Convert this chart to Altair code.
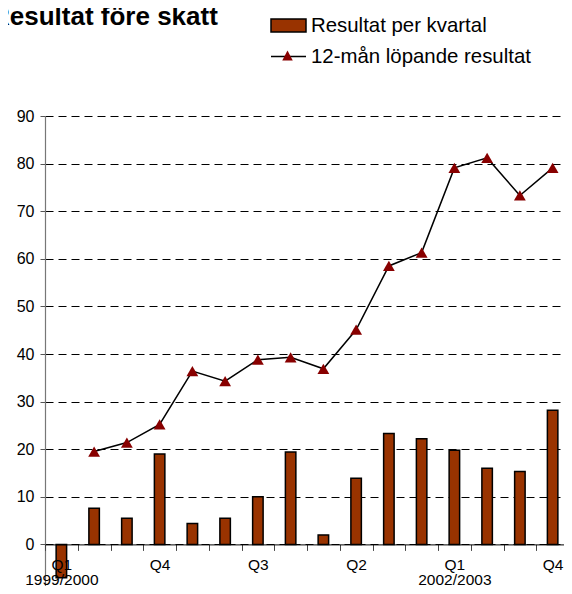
import altair as alt
import pandas as pd

# ---- data ----
quarter_idx = list(range(16))
quarter_labels = ["Q1", "", "", "Q4", "", "", "Q3", "", "", "Q2", "", "", "Q1", "", "", "Q4"]
year_labels = ["1999/2000", "", "", "", "", "", "", "", "", "", "", "", "2002/2003", "", "", ""]
quarterly = [-7.0, 7.6, 5.5, 19.0, 4.4, 5.5, 10.0, 19.4, 2.0, 13.9, 23.3, 22.2, 19.8, 16.0, 15.3, 28.2]
rolling_idx = list(range(1, 16))
rolling = [19.5, 21.4, 25.2, 36.4, 34.3, 38.8, 39.3, 36.9, 45.1, 58.5, 61.3, 79.1, 81.2, 73.3, 79.1]
y_ticks = list(range(-10, 91, 10))

BAR_NAME = "Resultat per kvartal"
LINE_NAME = "12-mån löpande resultat"
MARKER_NAME = "marker"
TITLE = "Resultat före skatt"

FONT = "Liberation Sans"
W, H = 519, 470          # svg stays inside the 572x594 page
Y_RANGE = 476            # pixel extent of -10..90
X_RANGE = 524

bars_df = pd.DataFrame({"q": quarter_idx, "v": quarterly, "s": BAR_NAME})
line_df = pd.DataFrame({"q": rolling_idx, "v": rolling, "s": LINE_NAME, "m": MARKER_NAME})

# multi-line label expression built from the label lists
parts = []
for q, y in zip(quarter_labels, year_labels):
    if y:
        parts.append("['%s','%s']" % (q, y))
    else:
        parts.append("'%s'" % q)
label_expr = "[" + ",".join(parts) + "][datum.value]"

x_scale = alt.Scale(domain=quarter_idx, range=[0, X_RANGE], paddingInner=0, paddingOuter=0)
y_scale = alt.Scale(domain=[-10, 90], nice=False, zero=False, range=[Y_RANGE, 0])

x_axis = alt.Axis(
    title=None, labelExpr=label_expr, labelAngle=0, tickBand="extent",
    offset=-(H - Y_RANGE * 90 / 100), domainColor="black", domainWidth=1,
    tickColor="#444", tickSize=6, labelFont=FONT, labelFontSize=15.5,
    labelColor="black", labelPadding=7, labelLineHeight=15,
    labelBaseline="top", zindex=1, grid=False,
)
y_axis = alt.Axis(
    title=None, values=y_ticks, grid=True, gridDash=[8, 5], gridColor="black",
    gridWidth=1, domainColor="#777", domainWidth=1.2, tickColor="#555",
    tickSize=5, labelFont=FONT, labelFontSize=16, labelColor="black",
    labelPadding=6,
)

X = alt.X("q:O", scale=x_scale, axis=x_axis, sort=None)
Y = alt.Y("v:Q", scale=y_scale, axis=y_axis)

bars = alt.Chart(bars_df).mark_bar(
    width=alt.RelativeBandSize(0.32), stroke="black", strokeWidth=1.5
).encode(
    x=X, y=Y,
    fill=alt.Fill(
        "s:N",
        scale=alt.Scale(domain=[BAR_NAME], range=["#993300"]),
        legend=alt.Legend(
            title=None, orient="none", legendX=225, legendY=-109,
            symbolType="M-1,-0.37H1V0.37H-1Z", symbolSize=1225,
            symbolStrokeColor="black", symbolStrokeWidth=1.5,
            symbolFillColor="#993300", symbolOpacity=1,
            labelFont=FONT, labelFontSize=20.4, labelColor="black",
            labelOffset=4, labelLimit=400, padding=0,
        ),
    ),
)

line = alt.Chart(line_df).mark_line(strokeWidth=1.5).encode(
    x=X, y=Y,
    stroke=alt.Stroke(
        "s:N",
        scale=alt.Scale(domain=[LINE_NAME], range=["black"]),
        legend=alt.Legend(
            title=None, orient="none", legendX=225, legendY=-78,
            symbolType="stroke", symbolSize=1225, symbolStrokeWidth=1.5,
            labelFont=FONT, labelFontSize=20.4, labelColor="black",
            labelOffset=4, labelLimit=400, padding=0, zindex=1,
        ),
    ),
)

points = alt.Chart(line_df).mark_point(
    shape="triangle-up", filled=True, size=140, opacity=1
).encode(
    x=X, y=Y,
    color=alt.Color(
        "m:N",
        scale=alt.Scale(domain=[MARKER_NAME], range=["#880000"]),
        legend=alt.Legend(
            title=None, orient="none", legendX=225, legendY=-78,
            symbolType="M-0.3,0.28L0,-0.28L0.3,0.28Z", symbolSize=1225,
            symbolFillColor="#880000", symbolStrokeWidth=0, symbolOpacity=1,
            labelExpr="''", labelFontSize=20.4, padding=0, zindex=2,
        ),
    ),
)

chart = alt.layer(bars, line, points).resolve_scale(
    fill="independent", stroke="independent", color="independent"
).properties(
    width=W, height=H,
    title=alt.TitleParams(
        TITLE, anchor="start", frame="group", font=FONT, fontSize=26,
        fontWeight="bold", color="black", dx=-54, offset=0, dy=44,
        baseline="alphabetic",
    ),
    autosize=alt.AutoSizeParams(type="none"),
    padding={"left": 37, "top": 108, "right": 0, "bottom": 0},
).configure_view(stroke=None)

chart.save("out.html", embed_options={"renderer": "svg", "actions": False})
